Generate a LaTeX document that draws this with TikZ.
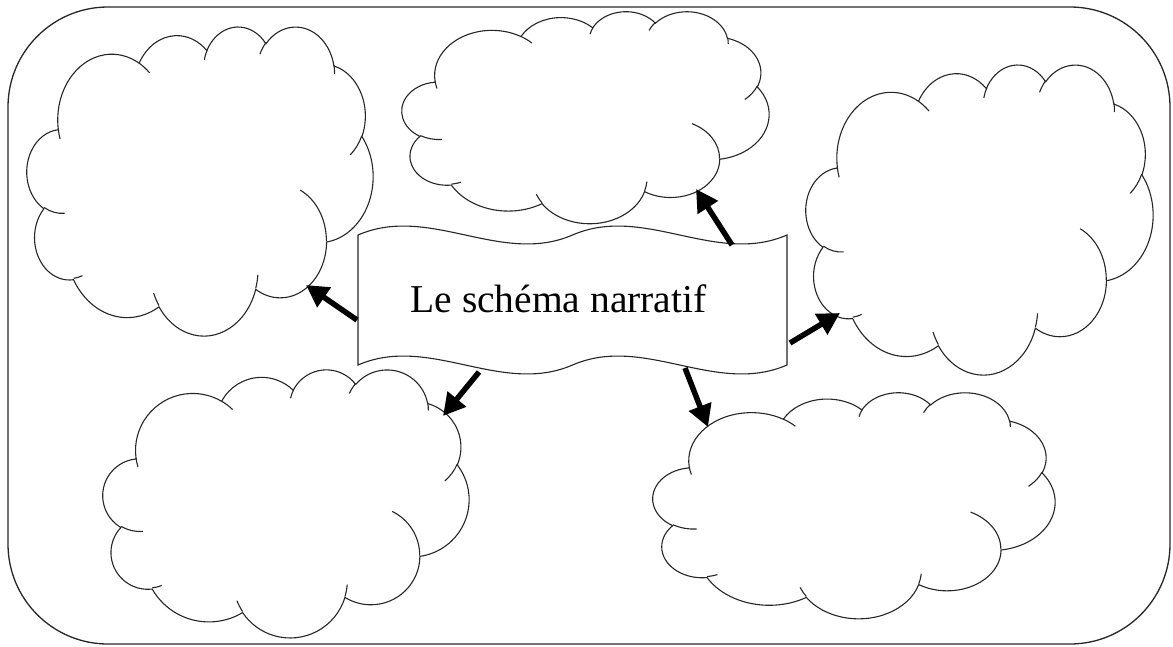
\documentclass[tikz,border=0pt]{standalone}
\usepackage{fontspec}
\setmainfont{Liberation Serif}
\usetikzlibrary{arrows.meta}

% Office-style elliptical arc: visual angles -> parametric angles
\newcommand\defarc[5]{%
  \pgfmathsetmacro\tmpa{atan2((#2)*sin(#4),(#3)*cos(#4))}%
  \pgfmathsetmacro\tmpb{atan2((#2)*sin((#4)+(#5)),(#3)*cos((#4)+(#5)))}%
  \pgfmathsetmacro\tmpb{\tmpb+360*(\tmpb<\tmpa)}%
  \expandafter\xdef\csname #1\endcsname{arc[start angle=\tmpa,end angle=\tmpb,x radius=#2,y radius=#3]}%
}
\defarc{oA}{6.753}{9.190}{-190.4875}{123.7805}
\defarc{oB}{5.333}{7.267}{-144.1024}{89.9452}
\defarc{oC}{4.365}{5.945}{-145.8079}{99.7230}
\defarc{oD}{4.857}{6.595}{-130.9861}{117.2417}
\defarc{oE}{5.333}{7.273}{-78.7089}{109.0269}
\defarc{oF}{6.775}{9.220}{-46.2673}{130.2690}
\defarc{oG}{5.785}{7.867}{0.6250}{114.0333}
\defarc{oH}{6.752}{9.215}{22.4516}{115.1726}
\defarc{oI}{7.720}{10.543}{66.2426}{75.7110}
\defarc{oJ}{4.360}{5.918}{-274.9421}{146.7356}
\defarc{oK}{4.345}{5.945}{-246.8285}{152.5189}
\defarc{iA}{4.345}{5.945}{86.7420}{26.4295}
\defarc{iB}{4.360}{5.918}{73.6105}{11.4475}
\defarc{iC}{6.752}{9.215}{137.6242}{14.0811}
\defarc{iD}{6.752}{9.215}{6.4533}{15.9984}
\defarc{iE}{5.785}{7.867}{-70.2924}{70.9174}
\defarc{iF}{5.333}{7.273}{30.3180}{27.7515}
\defarc{iG}{4.857}{6.595}{-13.7443}{14.8538}
\defarc{iH}{4.857}{6.595}{-149.1815}{18.1954}
\defarc{iI}{4.365}{5.945}{-163.4943}{17.6864}
\defarc{iJ}{6.753}{9.190}{-66.7070}{12.3194}
\defarc{iK}{6.753}{9.190}{157.6544}{11.8582}

\tikzset{
  cloudline/.style={draw=black!85, line width=1.1pt},
  bigarrow/.style={line width=5.5pt, -{Triangle[length=22pt,width=23pt]}},
  frameline/.style={draw=black!85, line width=1.3pt},
}

\newcommand\cloudat[5]{%
  \pgfmathsetmacro\cwu{((#4)-(#2))/43.2}%
  \pgfmathsetmacro\chu{((#5)-(#3))/43.2}%
  \begin{scope}[shift={(#2,#3)}, x=\cwu pt, y=-\chu pt]
    \coordinate (#1) at (21.6,21.6);
    \draw[cloudline, fill=white] (3.9,14.37) \oA \oB \oC \oD \oE \oF \oG \oH \oI \oJ \oK -- cycle;
    \draw[cloudline] (4.693,26.177) \iA (6.928,34.899) \iB (16.478,39.090) \iC
      (28.827,34.751) \iD (34.129,22.954) \iE (41.798,15.354) \iF
      (38.324,5.426) \iG (29.078,3.952) \iH (22.141,4.720) \iI
      (14.000,5.192) \iJ (4.127,15.789) \iK;
  \end{scope}}

\begin{document}
\begin{tikzpicture}[x=1pt, y=-1pt]
\useasboundingbox (0,0) rectangle (1173,646);
% outer frame
\draw[frameline, rounded corners=100pt] (8,7) rectangle (1170,644);

% clouds
\cloudat{cloudA}{27}{26}{373}{335}
\cloudat{cloudB}{402}{11}{769}{223}
\cloudat{cloudC}{806}{64}{1153}{374}
\cloudat{cloudD}{103}{369}{469}{637}
\cloudat{cloudE}{653}{392}{1055}{618}

% banner (double wave)
\draw[line width=1.1pt, draw=black!85, fill=white]
  (358,235) .. controls (429.5,204) and (501,266) .. (572.5,235)
            .. controls (644,204) and (715.5,266) .. (787,235)
  -- (787,365) .. controls (715.5,396) and (644,334) .. (572.5,365)
            .. controls (501,396) and (429.5,334) .. (358,365) -- cycle;
\node[anchor=base, inner sep=0pt, font=\fontsize{39.5}{47}\selectfont] (title) at (558.5,312) {Le schéma narratif};

% arrow endpoints
\coordinate (sA) at (357,320); \coordinate (tA) at (306,285);
\coordinate (sB) at (732,245); \coordinate (tB) at (696,189);
\coordinate (sC) at (790,343); \coordinate (tC) at (840,313);
\coordinate (sD) at (479,372); \coordinate (tD) at (443,416);
\coordinate (sE) at (685,368); \coordinate (tE) at (708,427);

\draw[bigarrow] (sA) -- (tA);
\draw[bigarrow] (sB) -- (tB);
\draw[bigarrow] (sC) -- (tC);
\draw[bigarrow] (sD) -- (tD);
\draw[bigarrow] (sE) -- (tE);
\end{tikzpicture}
\end{document}
